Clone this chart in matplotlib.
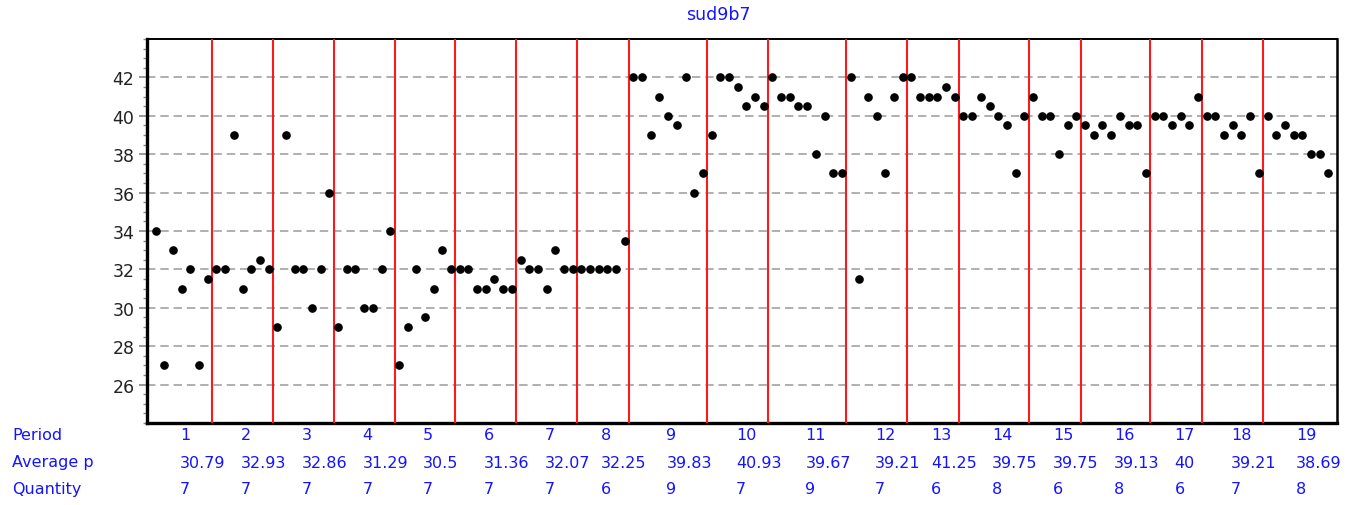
import matplotlib
matplotlib.use("Agg")
import matplotlib.pyplot as plt
import matplotlib.transforms as mtransforms
from matplotlib.ticker import MultipleLocator, NullLocator

# ---- data ----
title = "sud9b7"
periods = list(range(1, 20))
values_by_period = [
    [34, 27, 33, 31, 32, 27, 31.5],
    [32, 32, 39, 31, 32, 32.5, 32],
    [29, 39, 32, 32, 30, 32, 36],
    [29, 32, 32, 30, 30, 32, 34],
    [27, 29, 32, 29.5, 31, 33, 32],
    [32, 32, 31, 31, 31.5, 31, 31],
    [32.5, 32, 32, 31, 33, 32, 32],
    [32, 32, 32, 32, 32, 33.5],
    [42, 42, 39, 41, 40, 39.5, 42, 36, 37],
    [39, 42, 42, 41.5, 40.5, 41, 40.5],
    [42, 41, 41, 40.5, 40.5, 38, 40, 37, 37],
    [42, 31.5, 41, 40, 37, 41, 42],
    [42, 41, 41, 41, 41.5, 41],
    [40, 40, 41, 40.5, 40, 39.5, 37, 40],
    [41, 40, 40, 38, 39.5, 40],
    [39.5, 39, 39.5, 39, 40, 39.5, 39.5, 37],
    [40, 40, 39.5, 40, 39.5, 41],
    [40, 40, 39, 39.5, 39, 40, 37],
    [40, 39, 39.5, 39, 39, 38, 38, 37],
]
average_labels = ["30.79", "32.93", "32.86", "31.29", "30.5", "31.36", "32.07",
                  "32.25", "39.83", "40.93", "39.67", "39.21", "41.25", "39.75",
                  "39.75", "39.13", "40", "39.21", "38.69"]
quantity_labels = ["7", "7", "7", "7", "7", "7", "7", "6", "9", "7", "9", "7",
                   "6", "8", "6", "8", "6", "7", "8"]
y_ticks = [26, 28, 30, 32, 34, 36, 38, 40, 42]
row_labels = ["Period", "Average p", "Quantity"]

W, H = 1361, 506
fig = plt.figure(figsize=(W / 100, H / 100), dpi=100)
ax = fig.add_axes([147 / W, 1 - 424 / H, (1337 - 147) / W, (424 - 40) / H])

blue = "#1414ff"

# points
xs, ys, bounds = [], [], []
idx = 0
for vals in values_by_period:
    start = idx + 1
    for v in vals:
        idx += 1
        xs.append(idx)
        ys.append(v)
    bounds.append((start, idx))

ax.plot(xs, ys, "o", color="black", ms=5.2, zorder=5)

# red separators
for (s, e) in bounds[:-1]:
    ax.axvline(e + 0.5, color="#ff1a1a", lw=1.5, zorder=3)

ax.set_xlim(0, 137)
ax.set_ylim(24, 44)
ax.set_yticks(y_ticks)
ax.yaxis.set_minor_locator(MultipleLocator(0.5))
ax.xaxis.set_major_locator(NullLocator())
ax.tick_params(axis="y", which="major", length=6, width=1.2, color="#888888",
               labelsize=12.5, labelcolor="#222222", pad=3)
ax.tick_params(axis="y", which="minor", length=3, width=1.0, color="#888888")
ax.yaxis.grid(True, which="major", color="#9a9a9a", lw=1.1,
              linestyle=(0, (5.5, 3.2)), zorder=1)
ax.set_axisbelow(True)

ax.spines["left"].set_linewidth(2.4)
ax.spines["bottom"].set_linewidth(2.4)
ax.spines["top"].set_linewidth(1.4)
ax.spines["right"].set_linewidth(1.8)
for sp in ax.spines.values():
    sp.set_color("black")

# title
fig.text(718 / W, 1 - 15 / H, title, color=blue, fontsize=12.5,
         ha="center", va="center")

# table below
row_y = [1 - 435 / H, 1 - 463 / H, 1 - 490 / H]
for lab, yy in zip(row_labels, row_y):
    fig.text(12 / W, yy, lab, color=blue, fontsize=11.5, ha="left", va="center")

trans = mtransforms.blended_transform_factory(ax.transData, fig.transFigure)
for p, (s, e), avg, q in zip(periods, bounds, average_labels, quantity_labels):
    xc = (s + e) / 2 - 0.2
    for txt, yy in zip([str(p), avg, q], row_y):
        ax.text(xc, yy, txt, transform=trans, color=blue, fontsize=11.5,
                ha="left", va="center", clip_on=False)

fig.savefig("out.png", dpi=100)
